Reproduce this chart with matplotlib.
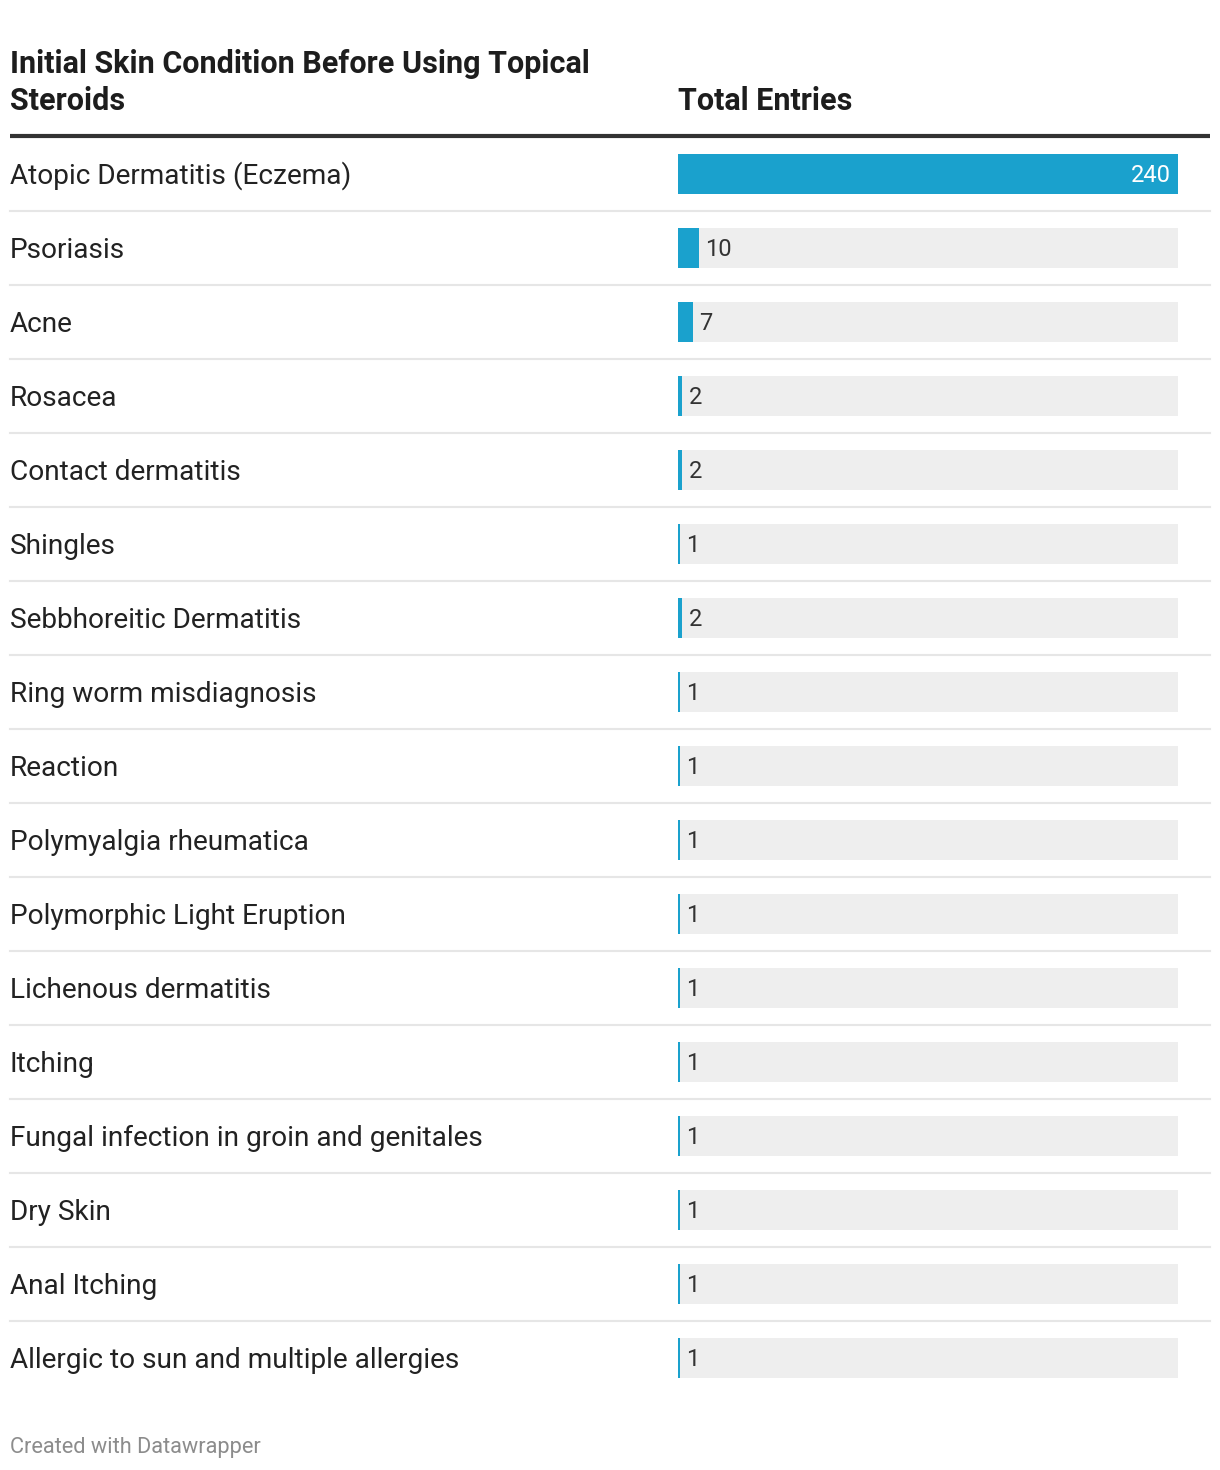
import matplotlib.pyplot as plt
import matplotlib.transforms as mtransforms

plt.rcParams['font.family'] = ['Roboto', 'DejaVu Sans']

conditions = ["Atopic Dermatitis (Eczema)", "Psoriasis", "Acne", "Rosacea",
              "Contact dermatitis", "Shingles", "Sebbhoreitic Dermatitis",
              "Ring worm misdiagnosis", "Reaction", "Polymyalgia rheumatica",
              "Polymorphic Light Eruption", "Lichenous dermatitis", "Itching",
              "Fungal infection in groin and genitales", "Dry Skin",
              "Anal Itching", "Allergic to sun and multiple allergies"]
entries = [240, 10, 7, 2, 2, 1, 2, 1, 1, 1, 1, 1, 1, 1, 1, 1, 1]
max_value = 240

W, H = 1220, 1470
fig = plt.figure(figsize=(W / 100, H / 100), dpi=100)

# rows: centres every 74 px starting at 174 px from top
n = len(conditions)
row_h = 74
top_px = 174 - row_h / 2
bot_px = top_px + row_h * n
ax = fig.add_axes([678 / W, 1 - bot_px / H, 500 / W, (bot_px - top_px) / H])
ax.set_xlim(0, max_value)
ax.set_ylim(n - 0.5, -0.5)
ax.axis('off')

bar_col = '#1aa1cd'
ys = list(range(n))
ax.barh(ys, [max_value] * n, height=40 / row_h, color='#eeeeee', zorder=1)
ax.barh(ys, entries, height=40 / row_h, color=bar_col, zorder=2)

down = mtransforms.ScaledTranslation(0, -1.5 / 72, fig.dpi_scale_trans)
for y, v in zip(ys, entries):
    if v == max_value:
        tr = ax.transData + mtransforms.ScaledTranslation(-5 / 72, -1 / 72, fig.dpi_scale_trans)
        ax.text(v, y, str(v), transform=tr, ha='right', va='center',
                fontsize=17, color='white', zorder=3)
    else:
        tr = ax.transData + mtransforms.ScaledTranslation(4.5 / 72, -1 / 72, fig.dpi_scale_trans)
        ax.text(v, y, str(v), transform=tr, ha='left', va='center',
                fontsize=17, color='#333333', zorder=3)

# category labels on the left
lab_x = (10 - 678) / 500
for y, c in zip(ys, conditions):
    ax.text(lab_x, y, c, transform=ax.get_yaxis_transform() + down, ha='left',
            va='center', fontsize=20.2, color='#222222')

# row separators
x0, x1 = (10 - 678) / 500, (1210 - 678) / 500
for y in ys[:-1]:
    ax.axhline(y + 0.5, xmin=x0, xmax=x1, color='#e6e6e6', lw=1.5, clip_on=False, zorder=0)

# header
fig.text(10 / W, 1 - 64 / H, "Initial Skin Condition Before Using Topical",
         ha='left', va='center', fontsize=22, fontweight='bold', color='#1d1d1d')
fig.text(10 / W, 1 - 101 / H, "Steroids",
         ha='left', va='center', fontsize=22, fontweight='bold', color='#1d1d1d')
fig.text(678 / W, 1 - 101 / H, "Total Entries",
         ha='left', va='center', fontsize=22, fontweight='bold', color='#1d1d1d')
fig.add_artist(plt.Line2D([10 / W, 1210 / W], [1 - 136 / H, 1 - 136 / H],
                          color='#333333', lw=3, solid_capstyle='butt',
                          transform=fig.transFigure))

fig.text(10 / W, 1 - 1447 / H, "Created with Datawrapper", ha='left', va='center',
         fontsize=15.7, color='#8c8c8c')

fig.savefig('out.png', dpi=100, facecolor='white')
